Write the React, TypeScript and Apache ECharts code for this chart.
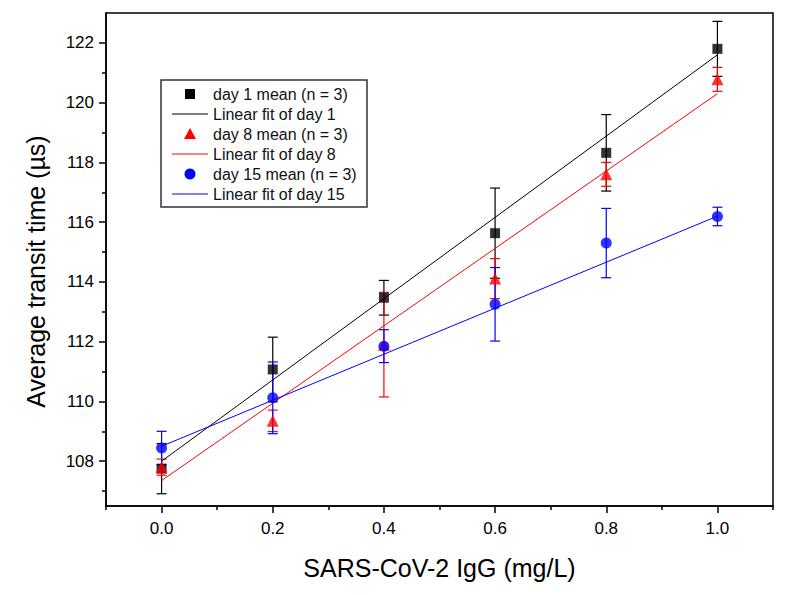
import React, { useEffect, useRef } from "react";
import * as echarts from "echarts";

const xValues = [0, 0.2, 0.4, 0.6, 0.8, 1.0];
const day1Mean = [107.75, 111.07, 113.47, 115.63, 118.32, 121.8];
const day1Err = [0.84, 1.08, 0.58, 1.51, 1.28, 0.92];
const day8Mean = [107.8, 109.35, 111.9, 114.11, 117.6, 120.78];
const day8Err = [0.27, 0.36, 1.75, 0.67, 0.4, 0.4];
const day15Mean = [108.44, 110.12, 111.85, 113.25, 115.3, 116.19];
const day15Err = [0.56, 1.2, 0.55, 1.23, 1.16, 0.31];

const fitX = [0, 1.0];
const fitDay1 = [108.0, 121.6];
const fitDay8 = [107.35, 120.3];
const fitDay15 = [108.5, 116.2];

const yMajor = [108, 110, 112, 114, 116, 118, 120, 122];
const yMinor = [107, 109, 111, 113, 115, 117, 119, 121];
const xMajor = [0, 0.2, 0.4, 0.6, 0.8, 1.0];
const xMinor = [-0.1, 0.1, 0.3, 0.5, 0.7, 0.9, 1.1];

const names = [
  "day 1 mean (n = 3)",
  "Linear fit of day 1",
  "day 8 mean (n = 3)",
  "Linear fit of day 8",
  "day 15 mean (n = 3)",
  "Linear fit of day 15",
];

const FONT = "'Liberation Sans', Arial, sans-serif";
const BLACK = "#000";
const RED = "#ff0000";
const BLUE = "#0000ff";

function errSeries(mean: number[], err: number[], color: string) {
  return {
    type: "custom",
    xAxisIndex: 0,
    yAxisIndex: 0,
    silent: true,
    z: 2,
    data: xValues.map((x, i) => [x, mean[i] - err[i], mean[i] + err[i]]),
    encode: { x: 0, y: [1, 2] },
    renderItem: (params: any, api: any) => {
      const x = api.value(0);
      const lo = api.coord([x, api.value(1)]);
      const hi = api.coord([x, api.value(2)]);
      const hw = 5;
      const st = { stroke: color, lineWidth: 1.2 };
      return {
        type: "group",
        children: [
          { type: "line", shape: { x1: lo[0], y1: lo[1], x2: hi[0], y2: hi[1] }, style: st },
          { type: "line", shape: { x1: lo[0] - hw, y1: lo[1], x2: lo[0] + hw, y2: lo[1] }, style: st },
          { type: "line", shape: { x1: hi[0] - hw, y1: hi[1], x2: hi[0] + hw, y2: hi[1] }, style: st },
        ],
      };
    },
  };
}

function meanSeries(name: string, mean: number[], color: string, symbol: string, size: number) {
  return {
    type: "scatter",
    name,
    xAxisIndex: 0,
    yAxisIndex: 0,
    symbol,
    symbolSize: size,
    itemStyle: { color },
    z: 4,
    data: xValues.map((x, i) => [x, mean[i]]),
  };
}

function fitSeries(name: string, fit: number[], color: string) {
  return {
    type: "line",
    name,
    xAxisIndex: 0,
    yAxisIndex: 0,
    symbol: "none",
    lineStyle: { color, width: 1 },
    itemStyle: { color },
    z: 3,
    data: fitX.map((x, i) => [x, fit[i]]),
  };
}

function legendGraphics() {
  const kinds = ["rect", "line", "triangle", "line", "circle", "line"];
  const colors = [BLACK, BLACK, RED, RED, BLUE, BLUE];
  const els: any[] = [
    {
      type: "rect",
      shape: { x: 161, y: 80, width: 206, height: 127 },
      style: { stroke: "#333", lineWidth: 1.5, fill: "#fff" },
      z: 10,
    },
  ];
  names.forEach((name, i) => {
    const cy = 94 + 20 * i;
    const c = colors[i];
    const k = kinds[i];
    if (k === "line") {
      els.push({ type: "line", shape: { x1: 172, y1: cy, x2: 208, y2: cy }, style: { stroke: c, lineWidth: 1 }, z: 11 });
    } else if (k === "rect") {
      els.push({ type: "rect", shape: { x: 185, y: cy - 5, width: 10, height: 10 }, style: { fill: c }, z: 11 });
    } else if (k === "triangle") {
      els.push({ type: "polygon", shape: { points: [[190, cy - 6], [196, cy + 5], [184, cy + 5]] }, style: { fill: c }, z: 11 });
    } else {
      els.push({ type: "circle", shape: { cx: 190, cy, r: 5.5 }, style: { fill: c }, z: 11 });
    }
    els.push({
      type: "text",
      x: 213,
      y: cy,
      z: 11,
      style: { text: name, fill: "#111", font: `16px ${FONT}`, verticalAlign: "middle", align: "left" },
    });
  });
  return els;
}

export default function App() {
  const ref = useRef<HTMLDivElement>(null);
  useEffect(() => {
    if (!ref.current) return;
    const chart = echarts.init(ref.current, undefined, { renderer: "svg" });
    const axisLine = { show: true, onZero: false, lineStyle: { color: "#000", width: 1.5 } };
    chart.setOption({
      animation: false,
      backgroundColor: "#fff",
      textStyle: { fontFamily: FONT },
      grid: {
        left: 106,
        right: 13,
        top: 13,
        bottom: 89,
        show: true,
        borderColor: "#000",
        borderWidth: 1.5,
        backgroundColor: "transparent",
      },
      xAxis: [
        {
          type: "value",
          position: "bottom",
          min: -0.1,
          max: 1.1,
          axisLine,
          axisTick: { show: true, customValues: xMajor, length: 7, lineStyle: { color: "#000", width: 1.5 } },
          axisLabel: {
            show: true,
            customValues: xMajor,
            margin: 14,
            fontSize: 17,
            color: "#000",
            fontFamily: FONT,
            formatter: (v: number) => v.toFixed(1),
          },
          splitLine: { show: false },
          name: "SARS-CoV-2 IgG (mg/L)",
          nameLocation: "middle",
          nameGap: 49,
          nameTextStyle: { fontSize: 25, color: "#000", fontFamily: FONT },
        },
        {
          type: "value",
          position: "bottom",
          min: -0.1,
          max: 1.1,
          axisLine: { show: false, onZero: false },
          axisTick: { show: true, customValues: xMinor, length: 4, lineStyle: { color: "#000", width: 1.5 } },
          axisLabel: { show: false },
          splitLine: { show: false },
        },
      ],
      yAxis: [
        {
          type: "value",
          position: "left",
          min: 106.5,
          max: 123,
          axisLine,
          axisTick: { show: true, customValues: yMajor, length: 7, lineStyle: { color: "#000", width: 1.5 } },
          axisLabel: {
            show: true,
            customValues: yMajor,
            margin: 12,
            fontSize: 17,
            color: "#000",
            fontFamily: FONT,
          },
          splitLine: { show: false },
          name: "Average transit time (µs)",
          nameLocation: "middle",
          nameGap: 58,
          nameTextStyle: { fontSize: 25, color: "#000", fontFamily: FONT, padding: [0, 24, 0, 0] },
        },
        {
          type: "value",
          position: "left",
          min: 106.5,
          max: 123,
          axisLine: { show: false, onZero: false },
          axisTick: { show: true, customValues: yMinor, length: 4, lineStyle: { color: "#000", width: 1.5 } },
          axisLabel: { show: false },
          splitLine: { show: false },
        },
      ],
      graphic: legendGraphics(),
      series: [
        errSeries(day1Mean, day1Err, BLACK),
        meanSeries(names[0], day1Mean, BLACK, "rect", 10),
        fitSeries(names[1], fitDay1, BLACK),
        errSeries(day8Mean, day8Err, RED),
        meanSeries(names[2], day8Mean, RED, "triangle", 12),
        fitSeries(names[3], fitDay8, RED),
        errSeries(day15Mean, day15Err, BLUE),
        meanSeries(names[4], day15Mean, BLUE, "circle", 11),
        fitSeries(names[5], fitDay15, BLUE),
      ],
    });
    return () => chart.dispose();
  }, []);
  return (
    <div
      ref={ref}
      style={{ position: "absolute", left: 0, top: 0, width: 786, height: 595 }}
    />
  );
}
